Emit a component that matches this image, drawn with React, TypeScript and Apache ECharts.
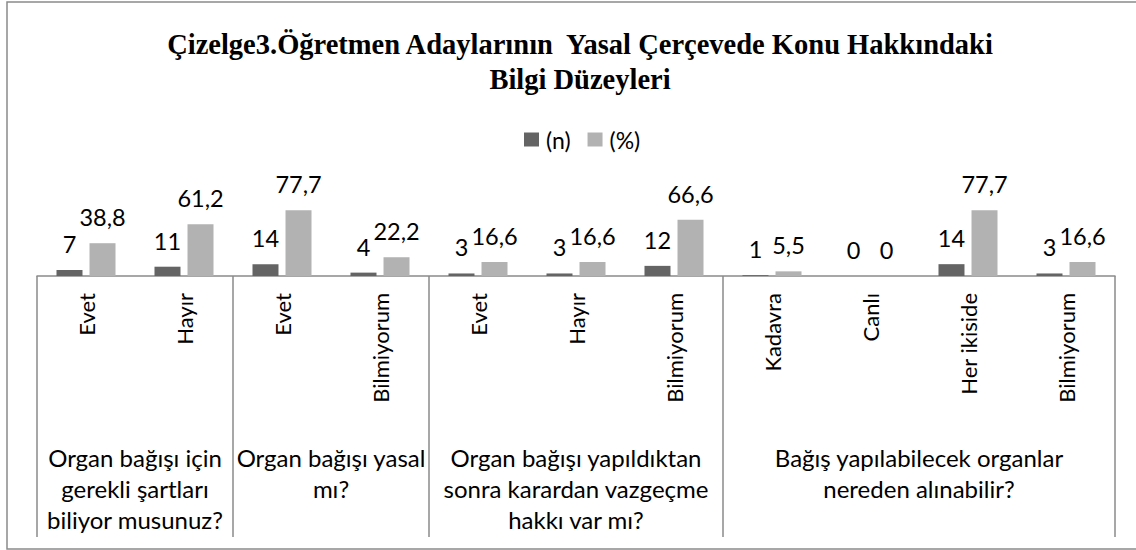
import React, { useEffect, useRef } from "react";
import * as echarts from "echarts";

const categories = ["Evet", "Hayır", "Evet", "Bilmiyorum", "Evet", "Hayır", "Bilmiyorum", "Kadavra", "Canlı", "Her ikiside", "Bilmiyorum"];
const nValues = [7, 11, 14, 4, 3, 3, 12, 1, 0, 14, 3];
const pctValues = [38.8, 61.2, 77.7, 22.2, 16.6, 16.6, 66.6, 5.5, 0, 77.7, 16.6];
const groupLabels = [
  "Organ bağışı için\ngerekli şartları\nbiliyor musunuz?",
  "Organ bağışı yasal\nmı?",
  "Organ bağışı yapıldıktan\nsonra karardan vazgeçme\nhakkı var mı?",
  "Bağış yapılabilecek organlar\nnereden alınabilir?",
];
const groupSizes = [2, 2, 3, 4];
const seriesNames = ["(n)", "(%)"];
const titleText = "Çizelge3.Öğretmen Adaylarının  Yasal Çerçevede Konu Hakkındaki\nBilgi Düzeyleri";

const LABEL_FONT = "Lato, 'Liberation Sans', sans-serif";

export default function App() {
  const ref = useRef<HTMLDivElement>(null);
  useEffect(() => {
    if (!ref.current) return;
    const chart = echarts.init(ref.current, null, { renderer: "svg" });
    const fmt = (p: any) => String(p.value).replace(".", ",");
    chart.setOption({
      animation: false,
      backgroundColor: "#fff",
      title: {
        text: titleText,
        left: 575,
        top: 22,
        textAlign: "center",
        textStyle: {
          fontFamily: "'Liberation Serif', serif",
          fontWeight: "bold",
          fontSize: 28.5,
          lineHeight: 35,
          color: "#000",
        },
      },
      legend: {
        data: seriesNames,
        left: 519,
        top: 123,
        icon: "rect",
        itemWidth: 15,
        itemHeight: 14,
        itemGap: 17,
        textStyle: { fontFamily: LABEL_FONT, fontSize: 23, color: "#000", padding: [0, 0, 0, 2] },
      },
      grid: { left: 37, right: 21, top: 191.5, bottom: 274, containLabel: false },
      xAxis: {
        type: "category",
        data: categories,
        axisLine: { lineStyle: { color: "#8a8a8a", width: 1.5 } },
        axisTick: { show: false },
        axisLabel: {
          rotate: 90,
          margin: 17,
          interval: 0,
          fontFamily: LABEL_FONT,
          fontSize: 22,
          color: "#000",
        },
      },
      yAxis: { type: "value", min: 0, max: 100, show: false },
      series: [
        {
          name: seriesNames[0],
          type: "bar",
          data: nValues,
          barWidth: 26,
          barGap: "27%",
          itemStyle: { color: "#646464" },
          label: { show: true, position: "top", distance: 14, formatter: fmt, fontFamily: LABEL_FONT, fontSize: 23.5, color: "#000" },
        },
        {
          name: seriesNames[1],
          type: "bar",
          data: pctValues,
          barWidth: 26,
          itemStyle: { color: "#b2b2b2" },
          label: { show: true, position: "top", distance: 14, formatter: fmt, fontFamily: LABEL_FONT, fontSize: 23.5, color: "#000" },
        },
      ],
    });

    const c0 = chart.convertToPixel({ xAxisIndex: 0 }, 0) as number;
    const c1 = chart.convertToPixel({ xAxisIndex: 0 }, 1) as number;
    const band = c1 - c0;
    const baseY = chart.convertToPixel({ yAxisIndex: 0 }, 0) as number;
    const boundaries: number[] = [0];
    groupSizes.forEach((s) => boundaries.push(boundaries[boundaries.length - 1] + s));
    const bx = boundaries.map((b) => c0 - band / 2 + b * band);
    const elements: any[] = [
      {
        type: "rect",
        shape: { x: 7, y: 2, width: 1140, height: 547 },
        style: { fill: "none", stroke: "#8a8a8a", lineWidth: 1.5 },
        silent: true,
      },
    ];
    bx.forEach((x) => {
      elements.push({
        type: "line",
        shape: { x1: x, y1: baseY, x2: x, y2: 537 },
        style: { stroke: "#8a8a8a", lineWidth: 1.5 },
        silent: true,
      });
    });
    groupLabels.forEach((t, i) => {
      elements.push({
        type: "text",
        x: (bx[i] + bx[i + 1]) / 2,
        y: 442,
        style: {
          text: t,
          align: "center",
          verticalAlign: "top",
          fontFamily: LABEL_FONT,
          fontSize: 24,
          lineHeight: 31,
          fill: "#000",
        },
        silent: true,
      });
    });
    chart.setOption({ graphic: elements });
    return () => chart.dispose();
  }, []);
  return <div ref={ref} style={{ position: "fixed", left: 0, top: 0, width: 1136, height: 550 }} />;
}
